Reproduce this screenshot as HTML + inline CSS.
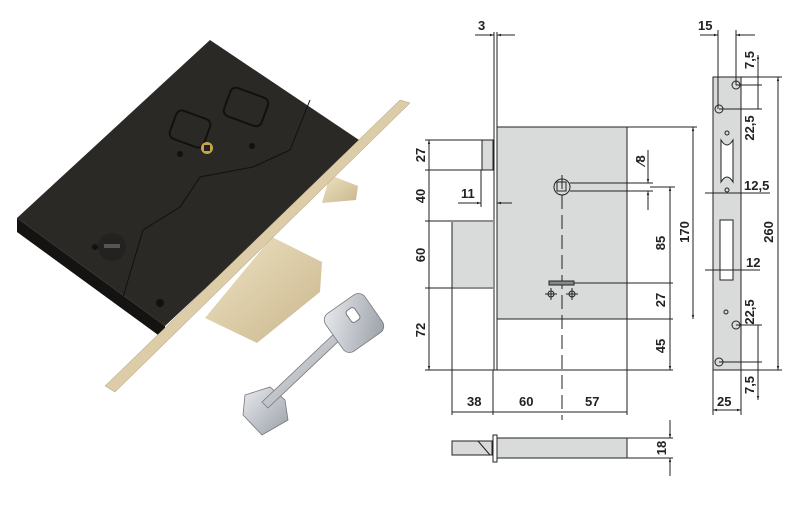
<!DOCTYPE html>
<html><head><style>
body{margin:0;background:#fff;width:800px;height:500px;overflow:hidden}
text{font-family:"Liberation Sans",sans-serif;font-weight:bold;font-size:13px;fill:#222}
</style></head><body>
<svg width="800" height="500" viewBox="0 0 800 500" xmlns="http://www.w3.org/2000/svg">
<defs>
<linearGradient id="gold" x1="0" y1="0" x2="1" y2="1"><stop offset="0" stop-color="#efe3c4"/><stop offset="1" stop-color="#c9b68c"/></linearGradient>
<linearGradient id="steel" x1="0" y1="0" x2="1" y2="1"><stop offset="0" stop-color="#e8eaee"/><stop offset="1" stop-color="#9aa0a8"/></linearGradient>
<marker id="a" viewBox="0 0 10 10" refX="10" refY="5" markerWidth="6" markerHeight="4" orient="auto-start-reverse"><path d="M0,2L10,5L0,8z" fill="#222"/></marker>
</defs>
<!-- photo -->
<polygon points="17,218 165,326 165,340 17,232" fill="#141312"/>
<polygon points="210,40 362,142 165,326 17,218" fill="#2b2926"/>
<polyline points="310,100 290,150 253,167 200,177 180,207 143,230 123,297" fill="none" stroke="#111" stroke-width="1"/>
<rect x="172" y="114" width="36" height="30" rx="6" fill="none" stroke="#111" stroke-width="2" transform="rotate(20 190 129)"/>
<rect x="226" y="92" width="40" height="30" rx="6" fill="none" stroke="#111" stroke-width="2" transform="rotate(20 246 107)"/>
<circle cx="207" cy="148" r="6" fill="#c9a54a"/><rect x="204" y="145" width="6" height="6" fill="#222"/>
<circle cx="112" cy="247" r="14" fill="#242220"/><rect x="104" y="244" width="16" height="4" fill="#555"/>
<circle cx="180" cy="154" r="3" fill="#111"/><circle cx="252" cy="146" r="3" fill="#111"/><circle cx="160" cy="303" r="4" fill="#111"/><circle cx="95" cy="247" r="3" fill="#111"/>
<polygon points="330,175 358,186 356,200 322,203" fill="url(#gold)"/>
<polygon points="272,237 322,262 320,292 257,343 205,318" fill="url(#gold)"/>
<polygon points="400,100 410,103 115,392 105,386" fill="url(#gold)" stroke="#a89a78" stroke-width="0.5"/>
<g fill="url(#steel)" stroke="#777" stroke-width="0.8">
<polygon points="245,395 270,387 285,400 288,420 262,435 243,415"/>
<polygon points="262,402 338,330 344,336 268,408"/>
<rect x="330" y="300" width="48" height="46" rx="8" transform="rotate(-35 354 323)"/>
</g>
<rect x="348" y="308" width="10" height="14" rx="3" fill="#fff" stroke="#777" transform="rotate(-35 353 315)"/>
<!-- drawing -->
<g stroke="#222" stroke-width="1" fill="none">
<rect x="497" y="127" width="130" height="192" fill="#d9dada" stroke="none"/>
<rect x="482" y="140" width="11" height="30" fill="#d9dada"/>
<rect x="452" y="222" width="41" height="65" fill="#d9dada" stroke="none"/>
<line x1="452" y1="222" x2="452" y2="415"/>
<line x1="494" y1="32" x2="494" y2="370"/><line x1="497" y1="32" x2="497" y2="370"/>
<line x1="497" y1="127" x2="697" y2="127"/>
<line x1="627" y1="127" x2="627" y2="415"/>
<line x1="497" y1="319" x2="673" y2="319"/>
<line x1="425" y1="370" x2="673" y2="370"/>
<line x1="425" y1="140" x2="482" y2="140"/><line x1="425" y1="170" x2="493" y2="170"/>
<line x1="425" y1="221" x2="493" y2="221"/><line x1="425" y1="288" x2="493" y2="288"/>
<line x1="429" y1="140" x2="429" y2="370" marker-start="url(#a)" marker-end="url(#a)"/>
<line x1="475" y1="35" x2="494" y2="35" marker-end="url(#a)"/><line x1="515" y1="35" x2="497" y2="35" marker-end="url(#a)"/>
<line x1="481" y1="170" x2="481" y2="207"/>
<line x1="458" y1="203" x2="481" y2="203" marker-end="url(#a)"/><line x1="512" y1="203" x2="497" y2="203" marker-end="url(#a)"/>
<circle cx="562" cy="187" r="8"/><rect x="557" y="182" width="9" height="9"/>
<line x1="570" y1="183" x2="653" y2="183"/><line x1="570" y1="191" x2="653" y2="191"/>
<line x1="648" y1="150" x2="648" y2="183" marker-end="url(#a)"/><line x1="648" y1="210" x2="648" y2="191" marker-end="url(#a)"/>
<line x1="562" y1="175" x2="562" y2="420" stroke-dasharray="14,6"/>
<line x1="549" y1="283" x2="673" y2="283"/>
<rect x="549" y="281" width="25" height="4" fill="#888"/>
<circle cx="551" cy="294" r="3"/><circle cx="572" cy="294" r="3"/>
<line x1="545" y1="294" x2="557" y2="294"/><line x1="551" y1="288" x2="551" y2="300"/>
<line x1="566" y1="294" x2="578" y2="294"/><line x1="572" y1="288" x2="572" y2="300"/>
<line x1="670" y1="187" x2="670" y2="370" marker-start="url(#a)" marker-end="url(#a)"/>
<line x1="650" y1="187" x2="675" y2="187"/>
<line x1="693" y1="127" x2="693" y2="319" marker-start="url(#a)" marker-end="url(#a)"/>
<line x1="493" y1="370" x2="493" y2="415"/>
<line x1="452" y1="412" x2="627" y2="412"/>
<rect x="497" y="438" width="130" height="20" fill="#d9dada"/>
<rect x="493" y="435" width="4" height="27" fill="#fff"/>
<rect x="452" y="441" width="40" height="14" fill="#d9dada"/>
<line x1="478" y1="441" x2="490" y2="455"/>
<line x1="627" y1="438" x2="673" y2="438"/><line x1="627" y1="458" x2="673" y2="458"/>
<line x1="670" y1="420" x2="670" y2="438" marker-end="url(#a)"/><line x1="670" y1="476" x2="670" y2="458" marker-end="url(#a)"/>
<rect x="713" y="77" width="28" height="293" fill="#d9dada"/>
<rect x="720" y="220" width="13" height="60" fill="#fff"/>
<path d="M721,140 Q727,150 733,140 L733,182 Q727,172 721,182z" fill="#fff"/>
<circle cx="736" cy="85" r="4"/><circle cx="719" cy="109" r="4"/><circle cx="736" cy="325" r="4"/><circle cx="719" cy="362" r="4"/>
<circle cx="727" cy="133" r="2"/><circle cx="727" cy="190" r="2"/><circle cx="726" cy="312" r="2"/>
<line x1="718" y1="30" x2="718" y2="109"/><line x1="736" y1="30" x2="736" y2="85"/>
<line x1="700" y1="35" x2="718" y2="35" marker-end="url(#a)"/><line x1="755" y1="35" x2="736" y2="35" marker-end="url(#a)"/>
<line x1="741" y1="77" x2="782" y2="77"/><line x1="736" y1="85" x2="762" y2="85"/><line x1="719" y1="109" x2="762" y2="109"/>
<line x1="758" y1="55" x2="758" y2="109" marker-start="url(#a)"/>
<line x1="705" y1="193" x2="770" y2="193"/>
<line x1="705" y1="270" x2="760" y2="270"/>
<line x1="736" y1="325" x2="762" y2="325"/><line x1="719" y1="362" x2="762" y2="362"/><line x1="741" y1="370" x2="782" y2="370"/>
<line x1="758" y1="325" x2="758" y2="400" marker-end="url(#a)"/>
<line x1="778" y1="77" x2="778" y2="370" marker-start="url(#a)" marker-end="url(#a)"/>
<line x1="713" y1="370" x2="713" y2="415"/><line x1="741" y1="370" x2="741" y2="415"/>
<line x1="713" y1="410" x2="741" y2="410" marker-start="url(#a)" marker-end="url(#a)"/>
</g>
<text x="478" y="30">3</text>
<text x="461" y="198">11</text>
<text x="698" y="30">15</text>
<text x="744" y="190">12,5</text>
<text x="746" y="267">12</text>
<text x="717" y="406">25</text>
<text x="467" y="406">38</text>
<text x="519" y="406">60</text>
<text x="585" y="406">57</text>
<g text-anchor="middle">
<text transform="translate(425,155) rotate(-90)">27</text>
<text transform="translate(425,196) rotate(-90)">40</text>
<text transform="translate(425,255) rotate(-90)">60</text>
<text transform="translate(425,330) rotate(-90)">72</text>
<text transform="translate(645,160) rotate(-90)">⁄8</text>
<text transform="translate(665,243) rotate(-90)">85</text>
<text transform="translate(665,300) rotate(-90)">27</text>
<text transform="translate(665,346) rotate(-90)">45</text>
<text transform="translate(689,232) rotate(-90)">170</text>
<text transform="translate(666,448) rotate(-90)">18</text>
<text transform="translate(754,60) rotate(-90)">7,5</text>
<text transform="translate(754,128) rotate(-90)">22,5</text>
<text transform="translate(773,232) rotate(-90)">260</text>
<text transform="translate(754,312) rotate(-90)">22,5</text>
<text transform="translate(754,385) rotate(-90)">7,5</text>
</g>
</svg>
</body></html>
